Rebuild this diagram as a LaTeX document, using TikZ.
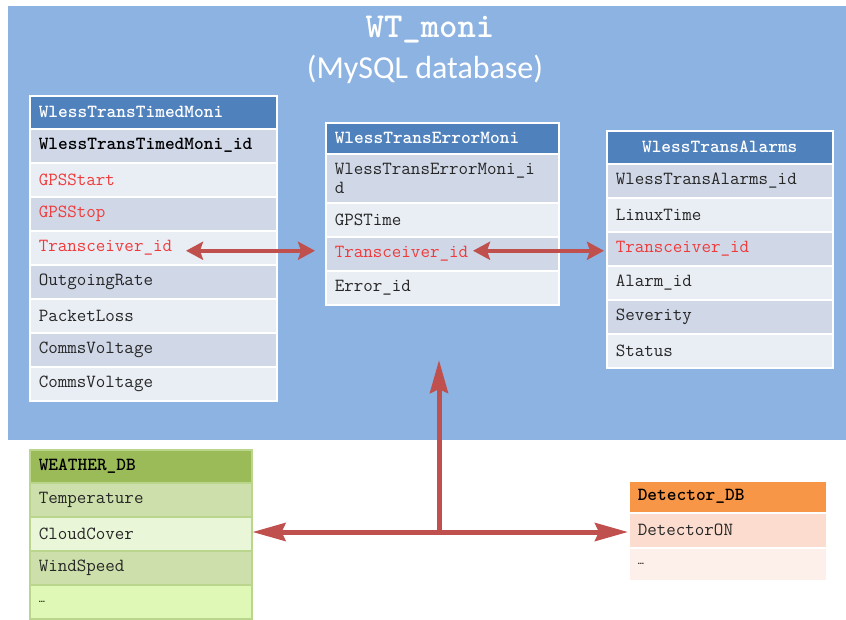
\documentclass[tikz,border=0pt]{standalone}
\usepackage{fontspec}
\newfontfamily\subfont{Carlito}
\usetikzlibrary{arrows.meta}

\definecolor{dbback}{HTML}{8DB3E2}
\definecolor{hdrblue}{HTML}{4F81BD}
\definecolor{rowdark}{HTML}{D0D8E8}
\definecolor{rowlight}{HTML}{E9EDF4}
\definecolor{keyred}{HTML}{F03A3A}
\definecolor{linkred}{HTML}{C0504D}
\definecolor{wxhdr}{HTML}{9BBB59}
\definecolor{wxdark}{HTML}{CDDFAA}
\definecolor{wxlight}{HTML}{E9F7D8}
\definecolor{wxlast}{HTML}{DFF8B6}
\definecolor{wxline}{HTML}{B9D68C}
\definecolor{dethdr}{HTML}{F79646}
\definecolor{detdark}{HTML}{FCDCCE}
\definecolor{detlight}{HTML}{FDEFEA}

\tikzset{
  cell/.style={rectangle, anchor=north west, draw=white, line width=1.5pt,
    inner xsep=9pt, inner ysep=0pt, minimum height=34pt, align=left,
    text=black!85, font=\fontsize{18.5}{19}\selectfont\ttfamily},
  hdr/.style={cell, fill=hdrblue, text=white,
    font=\fontsize{18.5}{19}\selectfont\ttfamily\bfseries},
  dk/.style={cell, fill=rowdark},
  lt/.style={cell, fill=rowlight},
  key/.style={text=keyred},
  tA/.style={text width=229pt},
  tB/.style={text width=215pt},
  tC/.style={text width=208pt},
  tW/.style={text width=204pt, draw=wxline},
  tD/.style={text width=180pt},
  conn/.style={draw=linkred, line width=4pt, >={Stealth[length=17pt,width=18pt,inset=3pt]}},
  bigconn/.style={draw=linkred, line width=5pt, >={Stealth[length=33pt,width=18pt,inset=4pt]}}
}

\begin{document}
\begin{tikzpicture}[x=1pt,y=-1pt]
  \useasboundingbox (0,0) rectangle (846,619);
  \fill[white] (0,0) rectangle (846,619);
  \fill[dbback] (8,6) rectangle (846,440);

  \node[anchor=base, text=white, font=\fontsize{35}{40}\selectfont\ttfamily\bfseries] (title) at (430,37) {WT\_moni};
  \node[anchor=base, text=white, font=\subfont\fontsize{32}{38}\selectfont] (subtitle) at (425,78) {(MySQL database)};

  % timed moni
  \node[hdr, tA, minimum height=33pt] (t1h) at (29,95) {WlessTransTimedMoni};
  \node[dk, tA, text=black, font=\fontsize{18.5}{19}\selectfont\ttfamily\bfseries] (t1r1) at (29,128) {WlessTransTimedMoni\_id};
  \node[lt, tA, key] (t1r2) at (29,162) {GPSStart};
  \node[dk, tA, key] (t1r3) at (29,196) {GPSStop};
  \node[lt, tA, key] (t1r4) at (29,230) {Transceiver\_id};
  \node[dk, tA] (t1r5) at (29,264) {OutgoingRate};
  \node[lt, tA] (t1r6) at (29,298) {PacketLoss};
  \node[dk, tA] (t1r7) at (29,332) {CommsVoltage};
  \node[lt, tA] (t1r8) at (29,366) {CommsVoltage};

  % error moni
  \node[hdr, tB, minimum height=31pt] (t2h) at (325,122) {WlessTransErrorMoni};
  \node[dk, tB, minimum height=49pt] (t2r1) at (325,153) {WlessTransErrorMoni\_i\\d};
  \node[lt, tB] (t2r2) at (325,202) {GPSTime};
  \node[dk, tB, key] (t2r3) at (325,236) {Transceiver\_id};
  \node[lt, tB] (t2r4) at (325,270) {Error\_id};

  % alarms
  \node[hdr, tC, minimum height=33pt, align=center] (t3h) at (606,130) {WlessTransAlarms};
  \node[dk, tC] (t3r1) at (606,163) {WlessTransAlarms\_id};
  \node[lt, tC] (t3r2) at (606,197) {LinuxTime};
  \node[dk, tC, key] (t3r3) at (606,231) {Transceiver\_id};
  \node[lt, tC] (t3r4) at (606,265) {Alarm\_id};
  \node[dk, tC] (t3r5) at (606,299) {Severity};
  \node[lt, tC] (t3r6) at (606,333) {Status};

  % weather
  \node[hdr, tW, fill=wxhdr, text=black, minimum height=33pt] (wh) at (29,449) {WEATHER\_DB};
  \node[cell, tW, fill=wxdark] (w1) at (29,482) {Temperature};
  \node[cell, tW, fill=wxlight] (w2) at (29,516) {CloudCover};
  \node[cell, tW, fill=wxdark] (w3) at (29,550) {WindSpeed};
  \node[cell, tW, fill=wxlast, text=black] (w4) at (29,584) {\fontsize{12}{14}\selectfont …};

  % detector
  \node[hdr, tD, fill=dethdr, text=black, minimum height=32pt] (dh) at (628,480) {Detector\_DB};
  \node[cell, tD, fill=detdark, minimum height=35pt] (d1) at (628,512) {DetectorON};
  \node[cell, tD, fill=detlight, minimum height=33pt, text=black] (d2) at (628,547) {\fontsize{12}{14}\selectfont …};

  % links
  \draw[conn, <->] ([shift={(157,3)}]t1r4.west) -- ([shift={(-10,-3)}]t2r3.west);
  \draw[conn, <->] ([shift={(148,-3)}]t2r3.west) -- ([shift={(-2,2)}]t3r3.west);

  \coordinate (hub) at (439,532);
  \coordinate (hubtop) at (439,360);
  \draw[bigconn, ->] (hub) -- (hubtop);
  \draw[bigconn, <->] (w2.east |- hub) -- (d1.west |- hub);
\end{tikzpicture}
\end{document}
